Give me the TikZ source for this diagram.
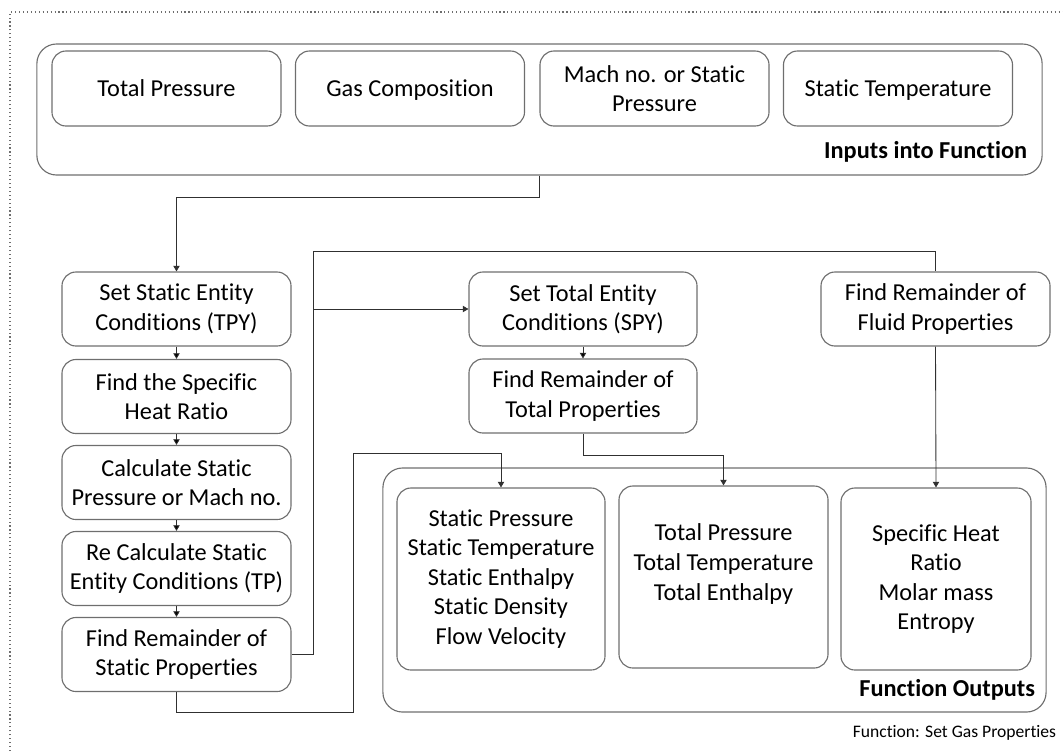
\documentclass[tikz,border=0pt]{standalone}
\usepackage{fontspec}
\setmainfont{Carlito}[Ligatures=NoCommon]
\usepackage{tikz}
\usetikzlibrary{arrows.meta}
\usetikzlibrary{calc}

\definecolor{boxgray}{HTML}{6E6E6E}
\definecolor{linegray}{HTML}{303030}

\begin{document}
\begin{tikzpicture}[x=0.025cm,y=-0.025cm,>/.tip={Triangle[length=4pt,width=4.5pt]},
	every node/.style={font=\fontsize{17.3pt}{21pt}\selectfont},
	box/.style={draw=boxgray,line width=0.8pt,rounded corners=10pt,align=center,inner sep=0pt},
	oneline/.style={text height=15pt,text depth=4pt},
	frame/.style={draw=boxgray,line width=0.8pt,rounded corners=14pt,inner sep=0pt},
	conn/.style={draw=linegray,line width=0.6pt}]
	\useasboundingbox (0,0) rectangle (1063,751);
	\draw[boxgray,dotted,line width=0.8pt] (10,751) -- (10,12) -- (1063,12);
	% inputs
	\draw (539.5,109.5) node (inputs) [frame,minimum width=25.125cm,minimum height=3.275cm] {};
	\draw (166.5,88.5) node (totP) [box,oneline,minimum width=5.725cm,minimum height=1.875cm] {Total Pressure};
	\draw (410,88.5) node (gasComp) [box,oneline,minimum width=5.725cm,minimum height=1.875cm] {Gas Composition};
	\draw (654.5,88.5) node (mach) [box,minimum width=5.725cm,minimum height=1.875cm] {Mach no. or Static\\Pressure};
	\draw (898,88.5) node (statT) [box,oneline,minimum width=5.725cm,minimum height=1.875cm] {Static Temperature};
	\node [anchor=east,font=\fontsize{17.3pt}{21pt}\selectfont\bfseries] (inLabel) at (1032,152) {Inputs into Function};
	% static side
	\draw (176.5,309) node (tpy) [box,minimum width=5.725cm,minimum height=1.85cm] {Set Static Entity\\Conditions (TPY)};
	\draw (176.5,396.5) node (gamma) [box,minimum width=5.725cm,minimum height=1.85cm] {Find the Specific\\Heat Ratio};
	\draw (176.5,482.5) node (calcP) [box,minimum width=5.725cm,minimum height=1.85cm] {Calculate Static\\Pressure or Mach no.};
	\draw (176.5,568.5) node (tp) [box,minimum width=5.725cm,minimum height=1.85cm] {Re Calculate Static\\Entity Conditions (TP)};
	\draw (176.5,654.5) node (remStatic) [box,minimum width=5.725cm,minimum height=1.85cm] {Find Remainder of\\Static Properties};
	% total side
	\draw (583,309) node (spy) [box,minimum width=5.7cm,minimum height=1.85cm] {Set Total Entity\\Conditions (SPY)};
	\draw (583,396) node (remTotal) [box,minimum width=5.7cm,minimum height=1.85cm] {Find Remainder of\\Total Properties};
	\draw (935.5,309) node (remFluid) [box,minimum width=5.725cm,minimum height=1.85cm] {Find Remainder of\\Fluid Properties};
	% outputs
	\draw (714.5,590) node (outputs) [frame,minimum width=16.575cm,minimum height=6.1cm] {};
	\draw (501,579) node (statOut) [box,minimum width=5.2cm,minimum height=4.55cm] {Static Pressure\\Static Temperature\\Static Enthalpy\\Static Density\\Flow Velocity};
	\draw (723.5,577) node (totOut) [box,minimum width=5.225cm,minimum height=4.55cm] {};
	\node [align=center] (totText) at (723.5,564) {Total Pressure\\Total Temperature\\Total Enthalpy};
	\draw (936,579) node (fluidOut) [box,minimum width=4.75cm,minimum height=4.55cm] {Specific Heat\\Ratio\\Molar mass\\Entropy};
	\node [anchor=east,font=\fontsize{17.3pt}{21pt}\selectfont\bfseries] (outLabel) at (1040,690) {Function Outputs};
	\node [anchor=east,font=\fontsize{12.5pt}{15pt}\selectfont] (caption) at (1061,733) {Function: Set Gas Properties};
	% connectors
	\coordinate (split) at (313,309);
	\path[conn,->] (inputs.south) -- ++(0,22) -| (tpy.north);
	\path[conn,->] (tpy) edge (gamma);
	\path[conn,->] (gamma) edge (calcP);
	\path[conn,->] (calcP) edge (tp);
	\path[conn,->] (tp) edge (remStatic);
	\path[conn] (remStatic.east) -| (313,251) -| (remFluid.north);
	\path[conn,->] (split) -- (spy.west);
	\path[conn,->] (spy) edge (remTotal);
	\path[conn,->] (remStatic.south) |- (353,712) |- (501,453) -- (statOut.north);
	\path[conn,->] (remTotal.south) |- (723.5,455) -- (totOut.north);
	\path[conn,->] (remFluid.south) -- (fluidOut.north);
\end{tikzpicture}
\end{document}
